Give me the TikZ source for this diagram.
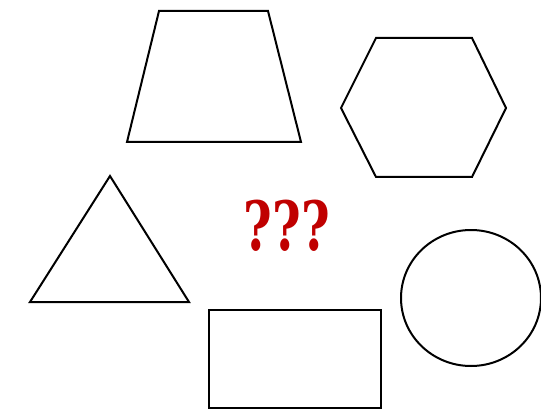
\documentclass[tikz,border=0pt]{standalone}
\usepackage{fontspec}
\usepackage{graphicx}
\newfontfamily\signos{DejaVu Serif}
\usetikzlibrary{positioning}
\definecolor{rojo}{HTML}{C00000}
\tikzset{
  forma/.style={draw=black, line width=2pt, line join=miter},
  pregunta/.style={text=rojo, font=\signos\bfseries\fontsize{68}{68}\selectfont, inner sep=0pt},
}
\begin{document}
\begin{tikzpicture}[x=1pt, y=-1pt]
  \useasboundingbox (0,0) rectangle (541,409);
  \draw[forma] (159,11) -- (268,11) -- (301,142) -- (127,142) -- cycle;
  \draw[forma] (376,38) -- (472,38) -- (506,108) -- (472,177) -- (376,177) -- (341,108) -- cycle;
  \draw[forma] (110,176) -- (189,302) -- (30,302) -- cycle;
  \draw[forma] (471,298) ellipse [x radius=70, y radius=68];
  \draw[forma] (209,310) rectangle (381,408);
  \node[pregunta] (dudas) at (287,226) {\scalebox{0.72}[1]{???}};
\end{tikzpicture}
\end{document}
